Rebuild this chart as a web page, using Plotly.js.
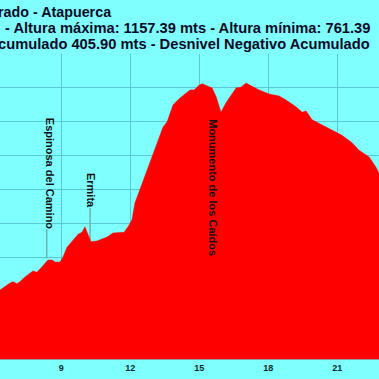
<!DOCTYPE html>
<html>
<head>
<meta charset="utf-8">
<script src="https://cdn.plot.ly/plotly-3.0.1.min.js"></script>
<style>html,body{margin:0;padding:0;background:#80ffff;}#chart{width:379px;height:379px;}</style>
</head>
<body>
<div id="chart"></div>
<script>
// Distance (km) and elevation (m) read from the profile
const distanceKm = [6.30, 6.34, 6.77, 6.90, 7.07, 7.20, 7.42, 7.77, 7.94, 8.16, 8.42, 8.60, 8.73, 8.94, 9.07, 9.25, 9.47, 9.73, 9.90, 10.03, 10.12, 10.29, 10.55, 10.99, 11.25, 11.55, 11.73, 11.90, 12.07, 12.20, 12.73, 12.99, 13.29, 13.42, 13.60, 13.86, 14.16, 14.60, 14.77, 14.99, 15.12, 15.34, 15.55, 15.73, 15.94, 16.16, 16.38, 16.60, 16.81, 17.03, 17.25, 17.60, 18.03, 18.47, 18.77, 19.20, 19.47, 19.64, 19.90, 20.33, 20.77, 21.20, 21.64, 21.94, 22.38, 22.68, 22.81, 22.90];
const elevationM = [851, 852, 862, 864, 861, 864, 871, 880, 878, 886, 896, 896, 893, 893, 900, 915, 923, 934, 937, 945, 937, 923, 924, 930, 936, 936, 937, 945, 955, 980, 1029, 1054, 1080, 1092, 1100, 1125, 1135, 1147, 1147, 1154, 1156, 1153, 1150, 1137, 1114, 1128, 1140, 1150, 1151, 1157.39, 1153, 1147, 1141, 1138, 1132, 1122, 1114, 1116, 1103, 1095, 1088, 1080, 1069, 1058, 1048, 1033, 1024, 1018];

// Waypoints
const waypointLabels = ["Espinosa del Camino", "Ermita", "Monumento de los Caídos"];
const waypointKm = [8.54, 10.32, 15.58];
const waypointLabelY = [0.608, 0.552, 0.561];
const waypointLineKm = [8.37, 10.25, 15.55];
const waypointLineTopY = [0.426, 0.495, 0.334];
const waypointLineBottomElev = [898, 926, 1150];

// Title lines (as visible)
const titleLines = ["rado - Atapuerca", "- Altura máxima: 1157.39 mts - Altura mínima: 761.39", "cumulado 405.90 mts - Desnivel Negativo Acumulado"];

const xTicks = [0, 3, 6, 9, 12, 15, 18, 21, 24, 27];

const annotations = [];
const titleX = [114/379, 372/379, 372/379];
const titleSize = [14.3, 14.7, 14.7];
const titleY = [(359-12)/305, (359-28)/305, (359-44.5)/305];
titleLines.forEach((t, i) => {
  annotations.push({text: t, xref: 'paper', yref: 'paper', x: titleX[i], y: titleY[i],
    xanchor: 'right', yanchor: 'middle', showarrow: false,
    font: {family: 'Liberation Sans, Arial, sans-serif', size: titleSize[i], color: '#0a0a28', weight: 'bold'}});
});
waypointLabels.forEach((t, i) => {
  annotations.push({text: t, xref: 'x', yref: 'paper', x: waypointKm[i], y: waypointLabelY[i],
    xanchor: 'center', yanchor: 'middle', textangle: 90, showarrow: false,
    font: {family: 'Liberation Sans, Arial, sans-serif', size: 11, color: '#111111', weight: 'bold'}});
});

const shapes = waypointLineKm.map((k, i) => ({
  type: 'line', xref: 'x', yref: 'paper', x0: k, x1: k, y0: (waypointLineBottomElev[i]-750)/450, y1: waypointLineTopY[i],
  line: {color: '#6a8c8c', width: 1}, layer: 'below'
}));

const trace = {
  x: distanceKm, y: elevationM, type: 'scatter', mode: 'lines',
  fill: 'tozeroy', fillcolor: '#ff0000',
  line: {color: '#ff0000', width: 0.5}, hoverinfo: 'skip'
};

const layout = {
  width: 379, height: 379,
  margin: {l: 0, r: 0, t: 54, b: 20, pad: 0},
  paper_bgcolor: '#80ffff', plot_bgcolor: '#80ffff',
  showlegend: false,
  xaxis: {range: [6.335, 22.81], tickvals: xTicks, ticktext: xTicks.map(String),
    showgrid: true, gridcolor: '#5cc8d6', gridwidth: 1, zeroline: false,
    showline: true, linecolor: '#8a9a9a', linewidth: 1, ticks: '',
    tickfont: {family: 'Liberation Sans, Arial, sans-serif', size: 9, color: '#0a2a30', weight: 'bold'}},
  yaxis: {range: [750, 1200], dtick: 50, tick0: 0, showgrid: true, gridcolor: '#5cc8d6', gridwidth: 1,
    zeroline: false, showticklabels: false, ticks: '', layer: 'below traces'},
  annotations: annotations,
  shapes: shapes
};

Plotly.newPlot('chart', [trace], layout, {displayModeBar: false, staticPlot: true});
</script>
</body>
</html>
